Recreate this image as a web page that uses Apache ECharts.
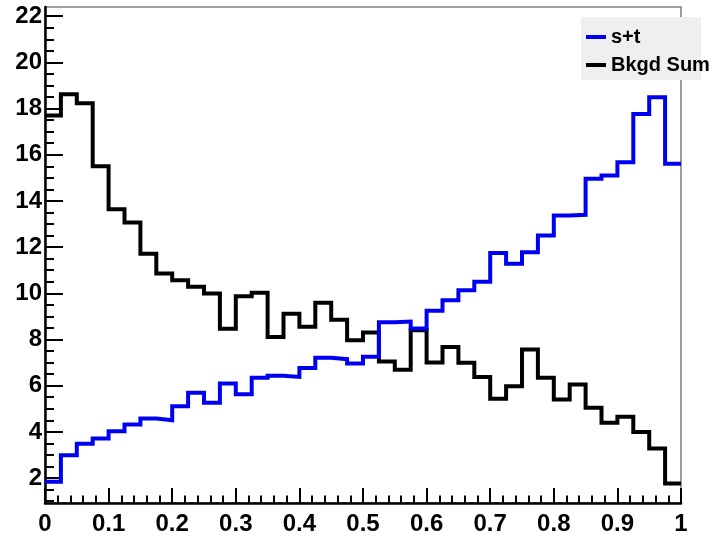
<!DOCTYPE html>
<html>
<head>
<meta charset="utf-8">
<script src="https://cdn.jsdelivr.net/npm/echarts@6/dist/echarts.min.js"></script>
<style>
html,body{margin:0;padding:0;background:#fff;}
#chart{width:713px;height:538px;}
</style>
</head>
<body>
<div id="chart"></div>
<script>
// Bin edges (40 bins of width 0.025 from 0 to 1)
const binEdges = [0, 0.025, 0.05, 0.075, 0.1, 0.125, 0.15, 0.175, 0.2, 0.225,
  0.25, 0.275, 0.3, 0.325, 0.35, 0.375, 0.4, 0.425, 0.45, 0.475,
  0.5, 0.525, 0.55, 0.575, 0.6, 0.625, 0.65, 0.675, 0.7, 0.725,
  0.75, 0.775, 0.8, 0.825, 0.85, 0.875, 0.9, 0.925, 0.95, 0.975, 1];

// s+t (blue)
const sigValues = [1.84, 2.99, 3.49, 3.71, 4.03, 4.32, 4.58, 4.50, 5.11, 5.69,
  5.26, 6.09, 5.63, 6.34, 6.43, 6.38, 6.77, 7.21, 7.15, 6.96,
  7.25, 8.75, 8.78, 8.48, 9.25, 9.70, 10.13, 10.50, 11.75, 11.28,
  11.78, 12.50, 13.37, 13.40, 14.96, 15.10, 15.68, 17.77, 18.49, 15.61];

// Bkgd Sum (black)
const bkgValues = [17.70, 18.62, 18.23, 15.50, 13.64, 13.07, 11.71, 10.86, 10.57, 10.28,
  9.99, 8.47, 9.87, 10.02, 8.11, 9.12, 8.55, 9.59, 8.86, 7.97,
  8.30, 7.05, 6.69, 8.40, 7.00, 7.68, 6.99, 6.38, 5.44, 5.98,
  7.57, 6.34, 5.40, 6.05, 5.04, 4.40, 4.65, 4.00, 3.28, 1.76];

const seriesNames = ['s+t', 'Bkgd Sum'];

// Axis ticks / labels
const xMajorTicks = [0, 0.1, 0.2, 0.3, 0.4, 0.5, 0.6, 0.7, 0.8, 0.9, 1];
const xTickLabels = ['0', '0.1', '0.2', '0.3', '0.4', '0.5', '0.6', '0.7', '0.8', '0.9', '1'];
const xMinorTicks = [0.02, 0.04, 0.06, 0.08, 0.12, 0.14, 0.16, 0.18, 0.22, 0.24, 0.26, 0.28,
  0.32, 0.34, 0.36, 0.38, 0.42, 0.44, 0.46, 0.48, 0.52, 0.54, 0.56, 0.58,
  0.62, 0.64, 0.66, 0.68, 0.72, 0.74, 0.76, 0.78, 0.82, 0.84, 0.86, 0.88,
  0.92, 0.94, 0.96, 0.98];
const yMajorTicks = [2, 4, 6, 8, 10, 12, 14, 16, 18, 20, 22];
const yTickLabels = ['2', '4', '6', '8', '10', '12', '14', '16', '18', '20', '22'];
const yMinorTicks = [1, 1.5, 2.5, 3, 3.5, 4.5, 5, 5.5, 6.5, 7, 7.5, 8.5, 9, 9.5, 10.5, 11, 11.5,
  12.5, 13, 13.5, 14.5, 15, 15.5, 16.5, 17, 17.5, 18.5, 19, 19.5, 20.5, 21, 21.5];
const yMin = 0.92, yMax = 22.4;

function toSteps(vals) {
  return binEdges.map((x, i) => [x, vals[Math.min(i, vals.length - 1)]]);
}

const chart = echarts.init(document.getElementById('chart'), null, {renderer: 'canvas'});
const font = '"Liberation Sans", Arial, Helvetica, sans-serif';
const gridPos = {left: 45, right: 32, top: 7, bottom: 35};

chart.setOption({
  animation: false,
  backgroundColor: '#ffffff',
  grid: [
    Object.assign({show: true, borderColor: '#808080', borderWidth: 1.5, backgroundColor: '#ffffff', containLabel: false}, gridPos),
    Object.assign({show: false, containLabel: false}, gridPos)
  ],
  xAxis: [
    {
      type: 'value', gridIndex: 0, min: 0, max: 1, position: 'bottom',
      axisLine: {show: true, lineStyle: {color: '#000', width: 2.5}},
      axisTick: {show: true, inside: true, length: 15, customValues: xMajorTicks, lineStyle: {color: '#000', width: 2}},
      axisLabel: {show: true, customValues: xMajorTicks, margin: 9,
        formatter: v => { const i = xMajorTicks.findIndex(t => Math.abs(t - v) < 1e-9); return i >= 0 ? xTickLabels[i] : ''; },
        color: '#000', fontSize: 24, fontWeight: 'bold', fontFamily: font},
      splitLine: {show: false}
    },
    {
      type: 'value', gridIndex: 1, min: 0, max: 1, position: 'bottom',
      axisLine: {show: false},
      axisTick: {show: true, inside: true, length: 7.5, customValues: xMinorTicks, lineStyle: {color: '#000', width: 2}},
      axisLabel: {show: false},
      splitLine: {show: false}
    }
  ],
  yAxis: [
    {
      type: 'value', gridIndex: 0, min: yMin, max: yMax, position: 'left',
      axisLine: {show: true, lineStyle: {color: '#000', width: 2.5}},
      axisTick: {show: true, inside: true, length: 18, customValues: yMajorTicks, lineStyle: {color: '#000', width: 2}},
      axisLabel: {show: true, customValues: yMajorTicks, margin: 3, padding: [8, 0, 0, 0],
        formatter: v => { const i = yMajorTicks.findIndex(t => Math.abs(t - v) < 1e-9); return i >= 0 ? yTickLabels[i] : ''; },
        color: '#000', fontSize: 24, fontWeight: 'bold', fontFamily: font},
      splitLine: {show: false}
    },
    {
      type: 'value', gridIndex: 1, min: yMin, max: yMax, position: 'left',
      axisLine: {show: false},
      axisTick: {show: true, inside: true, length: 9, customValues: yMinorTicks, lineStyle: {color: '#000', width: 2}},
      axisLabel: {show: false},
      splitLine: {show: false}
    }
  ],
  graphic: [
    {type: 'rect', left: 581, top: 17, shape: {width: 120, height: 63}, style: {fill: '#efefef'}, z: 5}
  ],
  legend: {
    show: true, orient: 'vertical', left: 586, top: 27, padding: 0, itemGap: 8,
    itemWidth: 20, itemHeight: 4,
    data: [
      {name: seriesNames[0], icon: 'rect'},
      {name: seriesNames[1], icon: 'rect'}
    ],
    textStyle: {color: '#000', fontSize: 20, fontWeight: 'bold', fontFamily: font, lineHeight: 20, padding: [0, 0, 0, 0]},
    itemStyle: {borderWidth: 0},
    z: 10
  },
  series: [
    {
      name: seriesNames[1], type: 'line', xAxisIndex: 0, yAxisIndex: 0,
      step: 'end', symbol: 'none', showSymbol: false,
      data: toSteps(bkgValues),
      lineStyle: {color: '#000000', width: 4, join: 'miter', cap: 'butt'},
      itemStyle: {color: '#000000'},
      z: 3
    },
    {
      name: seriesNames[0], type: 'line', xAxisIndex: 0, yAxisIndex: 0,
      step: 'end', symbol: 'none', showSymbol: false,
      data: toSteps(sigValues),
      lineStyle: {color: '#0000f0', width: 4, join: 'miter', cap: 'butt'},
      itemStyle: {color: '#0000f0'},
      z: 4
    }
  ]
});
</script>
</body>
</html>
